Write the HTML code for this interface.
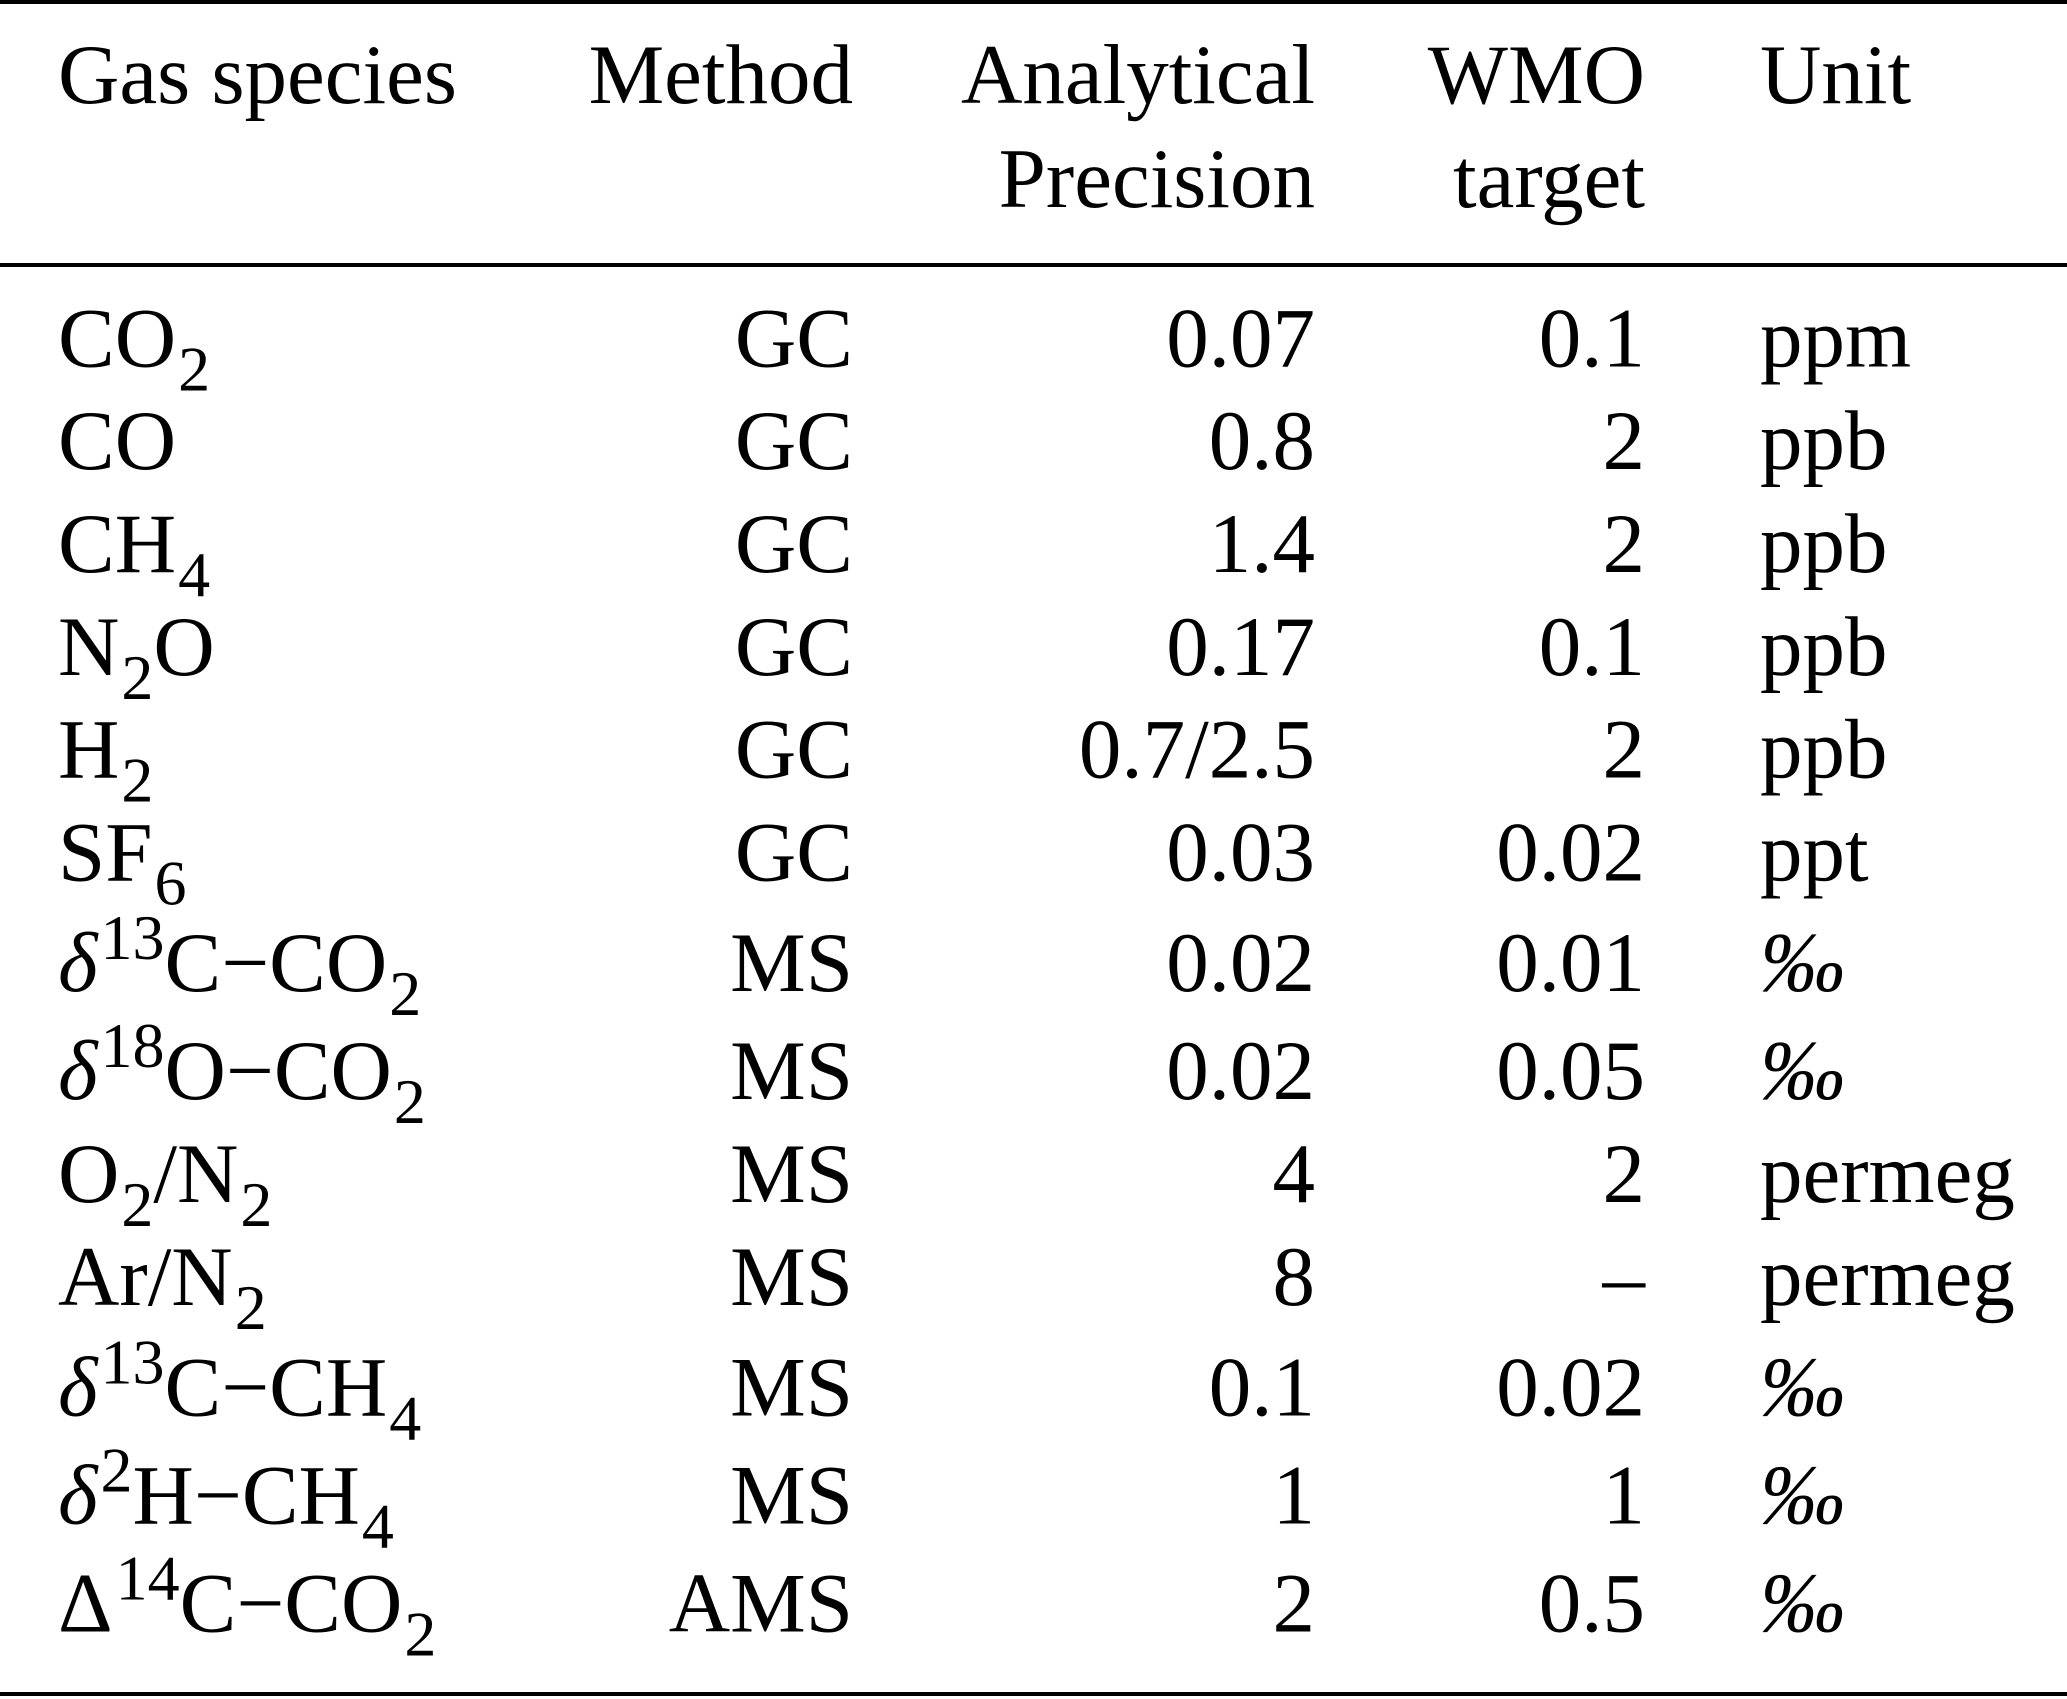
<!DOCTYPE html>
<html><head><meta charset="utf-8"><style>
html,body{margin:0;padding:0;background:#fff;}
svg{display:block;font-family:"Liberation Serif",serif;}
text{font-size:85px;fill:#000;}
</style></head><body>
<svg width="2067" height="1699" viewBox="0 0 2067 1699">
<rect x="0" y="0" width="2067" height="4" fill="#000"/>
<rect x="0" y="263" width="2067" height="4" fill="#000"/>
<rect x="0" y="1692" width="2067" height="4" fill="#000"/>
<g>
<text x="58" y="103">Gas species</text>
<text x="853" y="103" text-anchor="end">Method</text>
<text x="1315" y="103" text-anchor="end">Analytical</text>
<text x="1315" y="207" text-anchor="end">Precision</text>
<text x="1645" y="103" text-anchor="end">WMO</text>
<text x="1645" y="207" text-anchor="end">target</text>
<text x="1760" y="103">Unit</text>
</g>
<g id="rows"></g>
</svg>
<script>
const species = [
 'CO<tspan font-size="64" dx="2" dy="24">2</tspan>',
 'CO',
 'CH<tspan font-size="64" dx="2" dy="24">4</tspan>',
 'N<tspan font-size="64" dx="2" dy="24">2</tspan><tspan dy="-24">O</tspan>',
 'H<tspan font-size="64" dx="2" dy="24">2</tspan>',
 'SF<tspan font-size="64" dx="2" dy="24">6</tspan>',
 '<tspan font-style="italic">δ</tspan><tspan font-size="64" dx="3" dy="-32">13</tspan><tspan dy="32">C−CO</tspan><tspan font-size="64" dx="2" dy="24">2</tspan>',
 '<tspan font-style="italic">δ</tspan><tspan font-size="64" dx="3" dy="-32">18</tspan><tspan dy="32">O−CO</tspan><tspan font-size="64" dx="2" dy="24">2</tspan>',
 'O<tspan font-size="64" dx="2" dy="24">2</tspan><tspan dy="-24">/N</tspan><tspan font-size="64" dx="2" dy="24">2</tspan>',
 'Ar/N<tspan font-size="64" dx="2" dy="24">2</tspan>',
 '<tspan font-style="italic">δ</tspan><tspan font-size="64" dx="3" dy="-32">13</tspan><tspan dy="32">C−CH</tspan><tspan font-size="64" dx="2" dy="24">4</tspan>',
 '<tspan font-style="italic">δ</tspan><tspan font-size="64" dx="3" dy="-32">2</tspan><tspan dy="32">H−CH</tspan><tspan font-size="64" dx="2" dy="24">4</tspan>',
 'Δ<tspan font-size="64" dx="3" dy="-32">14</tspan><tspan dy="32">C−CO</tspan><tspan font-size="64" dx="2" dy="24">2</tspan>'
];
const methods = ['GC','GC','GC','GC','GC','GC','MS','MS','MS','MS','MS','MS','AMS'];
const precision = ['0.07','0.8','1.4','0.17','0.7/2.5','0.03','0.02','0.02','4','8','0.1','1','2'];
const wmo = ['0.1','2','2','0.1','2','0.02','0.01','0.05','2','–','0.02','1','0.5'];
const units = ['ppm','ppb','ppb','ppb','ppb','ppt','‰','‰','permeg','permeg','‰','‰','‰'];
const baselines = [278,356,434,512,590,668,752,834,912,990,1074,1156,1238];
const g = document.getElementById('rows');
const NS = 'http://www.w3.org/2000/svg';
function cell(x, y, html, anchor, italic) {
  const t = document.createElementNS(NS, 'text');
  t.setAttribute('x', x);
  t.setAttribute('y', y);
  if (anchor) t.setAttribute('text-anchor', anchor);
  if (italic) t.setAttribute('font-style', 'italic');
  t.innerHTML = html;
  return t;
}
for (let i = 0; i < species.length; i++) {
  const y = baselines[i] * 1.318;
  const row = document.createElementNS(NS, 'g');
  
  
  const a = cell(58, y, species[i]);
  
  
  const b = cell(853, y, methods[i], 'end');
  
  
  const c = cell(1315, y, precision[i], 'end');
  
  
  const d = cell(1645, y, wmo[i], 'end');
  
  
  const e = cell(1760, y, units[i], null, units[i] === '‰');
  
  
  row.append(a, b, c, d, e);
  g.appendChild(row);
}
</script>
</body></html>
